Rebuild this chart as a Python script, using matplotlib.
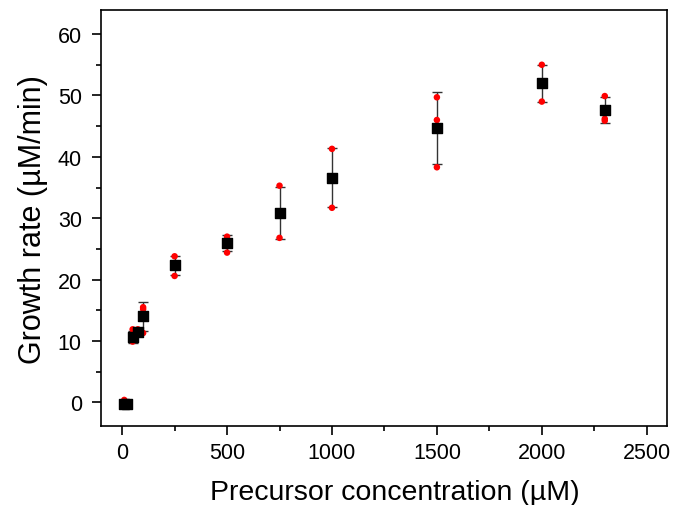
import numpy as np
import matplotlib.pyplot as plt
from matplotlib.ticker import MultipleLocator

plt.rcParams['font.family'] = ['Liberation Sans', 'DejaVu Sans']

# Precursor concentration (uM)
conc = [10, 25, 50, 75, 100, 250, 500, 750, 1000, 1500, 2000, 2300]
# mean growth rate (uM/min) and standard deviation
rate_mean = [-0.2, -0.3, 10.7, 11.4, 14.0, 22.3, 25.9, 30.9, 36.6, 44.7, 52.0, 47.6]
rate_err = [0.4, 0.1, 1.0, 0.4, 2.4, 1.6, 1.3, 4.25, 4.8, 5.8, 3.0, 2.1]
# individual replicate measurements
rep1 = [0.4, -0.2, 11.9, 11.9, 15.5, 23.8, 27.0, 35.3, 41.3, 49.7, 55.0, 49.9]
rep2 = [-0.4, -0.3, 9.9, 11.1, 11.3, 20.6, 24.4, 26.8, 31.7, 46.0, 49.0, 46.2]
rep3 = [-0.6, -0.4, 10.4, 11.3, 15.2, 22.5, 26.3, 30.6, 36.8, 38.3, 52.0, 45.9]

fig = plt.figure(figsize=(6.76, 5.06), dpi=100)
ax = fig.add_axes([0.1487, 0.1555, 0.8375, 0.8225])

ax.errorbar(conc, rate_mean, yerr=rate_err, fmt='none', ecolor='#333333',
            elinewidth=1.0, capsize=3.5, capthick=1.0, zorder=2)
for reps in (rep1, rep2, rep3):
    ax.scatter(conc, reps, s=22, color='red', edgecolors='none', zorder=3)
ax.scatter(conc, rate_mean, s=48, marker='s', color='black', zorder=4)

ax.set_xlim(-103, 2595)
ax.set_ylim(-3.9, 63.9)
ax.xaxis.set_major_locator(MultipleLocator(500))
ax.xaxis.set_minor_locator(MultipleLocator(250))
ax.yaxis.set_major_locator(MultipleLocator(10))
ax.yaxis.set_minor_locator(MultipleLocator(5))
ax.tick_params(which='major', direction='out', length=6.5, width=1.2, labelsize=15.5)
ax.tick_params(axis='x', which='major', pad=5)
ax.tick_params(axis='y', which='major', pad=7)
ax.tick_params(which='minor', direction='out', length=3.5, width=1.2)
for s in ax.spines.values():
    s.set_linewidth(1.2)

ax.set_xlabel('Precursor concentration (µM)', fontsize=20.5, labelpad=11)
ax.xaxis.label.set_x(0.52)
ax.set_ylabel('Growth rate (µM/min)', fontsize=22, labelpad=7)

fig.savefig('out.png', dpi=100)
